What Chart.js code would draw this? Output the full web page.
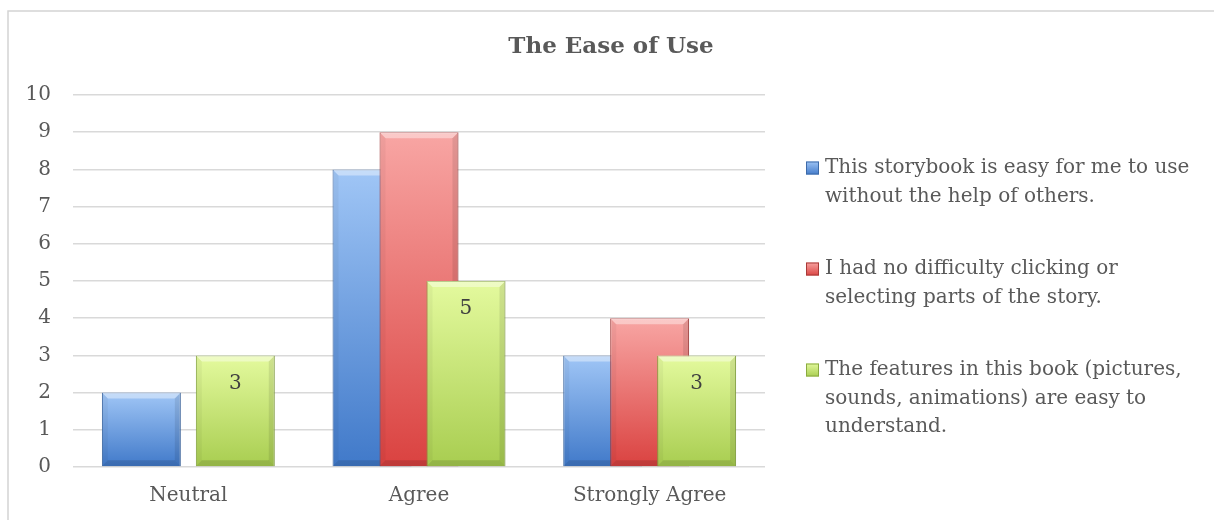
<!DOCTYPE html>
<html>
<head>
<meta charset="utf-8">
<script src="https://cdn.jsdelivr.net/npm/chart.js@4/dist/chart.umd.min.js"></script>
<style>
  html, body { margin: 0; padding: 0; background: #ffffff; }
  #wrap { position: relative; width: 1214px; height: 520px; }
</style>
</head>
<body>
<div id="wrap"><canvas id="easeChart" width="1214" height="520"></canvas></div>
<script>
// categorias e series
const categories = ["Neutral", "Agree", "Strongly Agree"];
const easyWithoutHelp = [2, 8, 3];
const noDifficultyClicking = [0, 9, 4];
const featuresEasy = [3, 5, 3];
const yTickValues = [0, 1, 2, 3, 4, 5, 6, 7, 8, 9, 10];
const seriesLabels = [
  ["This storybook is easy for me to use", "without the help of others."],
  ["I had no difficulty clicking or", "selecting parts of the story."],
  ["The features in this book (pictures,", "sounds, animations) are easy to", "understand."],
];
const chartTitle = "The Ease of Use";

const FONT = "'DejaVu Serif', serif";
const TEXT = "#595959";

// cores: topo claro -> base escura, borda
const palette = [
  { top: "#a0c6f6", bottom: "#4079c9", border: "#3d6aa8" },
  { top: "#f8a6a4", bottom: "#da4240", border: "#a83a38" },
  { top: "#e4fa9e", bottom: "#a8cd50", border: "#8aaa40" },
];

function barFill(c) {
  return (ctx) => {
    const chart = ctx.chart;
    if (ctx.type !== "data" || !chart.scales.y) return c.bottom;
    const y = chart.scales.y;
    const y0 = y.getPixelForValue(ctx.raw);
    const y1 = y.getPixelForValue(0);
    if (!isFinite(y0) || !isFinite(y1) || y1 - y0 < 2) return c.bottom;
    const g = chart.ctx.createLinearGradient(0, y0, 0, y1);
    g.addColorStop(0, c.top);
    g.addColorStop(1, c.bottom);
    return g;
  };
}

// relevo (bevel) suave em cada barra
function drawBevel(ctx, el) {
  const w = el.width, x0 = el.x - w / 2, x1 = el.x + w / 2;
  const top = el.y, bottom = el.base;
  if (bottom - top < 2) return;
  const b = Math.min(6, (bottom - top) / 2);
  ctx.save();
  const poly = (pts, color) => {
    ctx.beginPath();
    ctx.moveTo(pts[0][0], pts[0][1]);
    for (let i = 1; i < pts.length; i++) ctx.lineTo(pts[i][0], pts[i][1]);
    ctx.closePath();
    ctx.fillStyle = color;
    ctx.fill();
  };
  poly([[x0, top], [x1, top], [x1 - b, top + b], [x0 + b, top + b]], "rgba(255,255,255,0.4)");
  poly([[x0, top], [x0 + b, top + b], [x0 + b, bottom - b], [x0, bottom]], "rgba(0,0,0,0.04)");
  poly([[x1, top], [x1 - b, top + b], [x1 - b, bottom - b], [x1, bottom]], "rgba(0,0,0,0.09)");
  poly([[x0, bottom], [x0 + b, bottom - b], [x1 - b, bottom - b], [x1, bottom]], "rgba(0,0,0,0.12)");
  ctx.restore();
}

let drawingManual = false;
const orderPlugin = {
  id: "orderPlugin",
  beforeDatasetDraw() {
    return drawingManual;
  },
  afterDatasetsDraw(chart) {
    const ctx = chart.ctx;
    drawingManual = true;
    // a serie da direita fica por cima (como no Excel)
    chart.data.datasets.forEach((ds, i) => {
      const meta = chart.getDatasetMeta(i);
      meta.controller.draw();
      meta.data.forEach((el) => drawBevel(ctx, el));
    });
    drawingManual = false;
    // rotulos de dados da serie verde
    const meta = chart.getDatasetMeta(2);
    ctx.save();
    ctx.font = "20px " + FONT;
    ctx.fillStyle = "#404040";
    ctx.textAlign = "center";
    ctx.textBaseline = "middle";
    meta.data.forEach((el, j) => {
      ctx.fillText(String(featuresEasy[j]), el.x, el.y + 28);
    });
    ctx.restore();
  },
};

const framePlugin = {
  id: "framePlugin",
  beforeDraw(chart) {
    const ctx = chart.ctx;
    ctx.save();
    ctx.fillStyle = "#ffffff";
    ctx.fillRect(0, 0, chart.width, chart.height);
    ctx.strokeStyle = "#d4d4d4";
    ctx.lineWidth = 1.5;
    ctx.strokeRect(8, 11, 1300, 600);
    ctx.restore();
  },
  afterDraw(chart) {
    const ctx = chart.ctx;
    ctx.save();
    // titulo
    ctx.font = "bold 23px " + FONT;
    ctx.fillStyle = TEXT;
    ctx.textAlign = "center";
    ctx.textBaseline = "middle";
    ctx.fillText(chartTitle, 611, 47);
    // legenda
    ctx.font = "20px " + FONT;
    ctx.textAlign = "left";
    let y = 168;
    const lineH = 28.5;
    seriesLabels.forEach((lines, i) => {
      const c = palette[i];
      const g = ctx.createLinearGradient(0, y - 7, 0, y + 7);
      g.addColorStop(0, c.top);
      g.addColorStop(1, c.bottom);
      ctx.fillStyle = g;
      ctx.fillRect(806, y - 6.5, 13, 13);
      ctx.strokeStyle = c.border;
      ctx.lineWidth = 1;
      ctx.strokeRect(806.5, y - 6, 12, 12);
      ctx.fillStyle = TEXT;
      lines.forEach((t, k) => ctx.fillText(t, 825, y + k * lineH));
      y += lines.length * lineH + 44;
    });
    ctx.restore();
  },
};

const seriesData = [easyWithoutHelp, noDifficultyClicking, featuresEasy];

new Chart(document.getElementById("easeChart"), {
  type: "bar",
  data: {
    labels: categories,
    datasets: seriesData.map((d, i) => ({
      label: seriesLabels[i].join(" "),
      data: d,
      backgroundColor: barFill(palette[i]),
      borderColor: palette[i].border,
      borderWidth: 1,
      categoryPercentage: 0.611,
      barPercentage: 1.68,
    })),
  },
  options: {
    responsive: false,
    devicePixelRatio: 1,
    animation: false,
    layout: { padding: { left: 10, right: 449, top: 95, bottom: 10 } },
    plugins: {
      legend: { display: false },
      title: { display: false },
      tooltip: { enabled: false },
    },
    scales: {
      x: {
        grid: { display: false, drawTicks: false },
        border: { display: false },
        ticks: { color: TEXT, font: { family: FONT, size: 20 }, padding: 17 },
        afterFit(scale) { scale.height = 43; },
      },
      y: {
        min: 0,
        max: 10,
        afterBuildTicks(scale) { scale.ticks = yTickValues.map((v) => ({ value: v })); },
        grid: { color: "#d9d9d9", lineWidth: 1.5, drawTicks: false },
        border: { display: false },
        ticks: { color: TEXT, font: { family: FONT, size: 20 }, padding: 22 },
        afterFit(scale) { scale.width = 63; },
      },
    },
  },
  plugins: [framePlugin, orderPlugin],
});
</script>
</body>
</html>
